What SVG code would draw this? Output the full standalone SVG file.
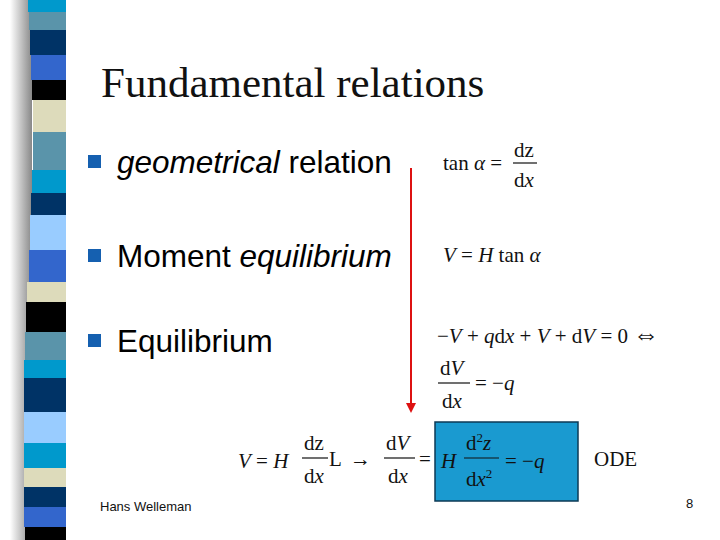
<svg xmlns="http://www.w3.org/2000/svg" width="720" height="540" viewBox="0 0 720 540">
<defs>
<linearGradient id="sh" x1="0" x2="1"><stop offset="0" stop-color="#fff"/><stop offset="1" stop-color="#888"/></linearGradient>
</defs>
<style>
.m{font-family:"Liberation Serif",serif;font-size:21px;fill:#111}
.i{font-style:italic}
.b{font-family:"Liberation Sans",sans-serif;font-size:31.5px;fill:#000}
.fl{stroke:#111;stroke-width:1.2}
</style>
<rect width="720" height="540" fill="#fff"/>
<g id="stripes">
<rect x="10" y="0" width="22" height="540" fill="url(#sh)"/>
<rect x="28" y="0" width="38" height="12" fill="#0099cc"/>
<rect x="29" y="12" width="37" height="18" fill="#5a94aa"/>
<rect x="30" y="30" width="36" height="25" fill="#003366"/>
<rect x="31" y="55" width="35" height="25" fill="#3366cc"/>
<rect x="32" y="80" width="34" height="20" fill="#000"/>
<rect x="33" y="100" width="33" height="32" fill="#dddbbb"/>
<rect x="33" y="132" width="33" height="38" fill="#5a94aa"/>
<rect x="32" y="170" width="34" height="23" fill="#0099cc"/>
<rect x="31" y="193" width="35" height="22" fill="#003366"/>
<rect x="30" y="215" width="36" height="35" fill="#99ccff"/>
<rect x="29" y="250" width="37" height="32" fill="#3366cc"/>
<rect x="27" y="282" width="39" height="20" fill="#dddbbb"/>
<rect x="26" y="302" width="40" height="30" fill="#000"/>
<rect x="25" y="332" width="41" height="28" fill="#5a94aa"/>
<rect x="24" y="360" width="42" height="18" fill="#0099cc"/>
<rect x="24" y="378" width="42" height="34" fill="#003366"/>
<rect x="24" y="412" width="42" height="31" fill="#99ccff"/>
<rect x="24" y="443" width="42" height="25" fill="#0099cc"/>
<rect x="24" y="468" width="42" height="19" fill="#dddbbb"/>
<rect x="24" y="487" width="42" height="20" fill="#003366"/>
<rect x="24" y="507" width="42" height="20" fill="#3366cc"/>
<rect x="25" y="527" width="41" height="13" fill="#000"/>
</g>
<g id="title"><text x="101" y="97" font-family="Liberation Serif,serif" font-size="43" fill="#111">Fundamental relations</text></g>
<g id="bullets" fill="#1560b0">
<rect x="88" y="155" width="13" height="13"/>
<rect x="88" y="249" width="13" height="13"/>
<rect x="88" y="334" width="13" height="13"/>
</g>
<g id="b1"><text class="b" x="117" y="173"><tspan font-style="italic">geometrical</tspan> relation</text></g>
<g id="b2"><text class="b" x="117" y="267">Moment <tspan font-style="italic">equilibrium</tspan></text></g>
<g id="b3"><text class="b" x="117" y="352">Equilibrium</text></g>
<g id="f1">
<text class="m" x="443" y="170">tan <tspan class="i">α</tspan> =</text>
<text class="m" x="514" y="157">dz</text><line class="fl" x1="513" y1="163" x2="537" y2="163"/><text class="m" x="514" y="187">d<tspan class="i">x</tspan></text>
</g>
<g id="f2"><text class="m" x="443" y="262"><tspan class="i">V</tspan> = <tspan class="i">H</tspan> tan <tspan class="i">α</tspan></text></g>
<g id="f3">
<text class="m" x="437" y="343">−<tspan class="i">V</tspan> + <tspan class="i">q</tspan>d<tspan class="i">x</tspan> + <tspan class="i">V</tspan> + d<tspan class="i">V</tspan> = 0 <tspan font-size="26">⇔</tspan></text>
<text class="m" x="440" y="375">d<tspan class="i">V</tspan></text><line class="fl" x1="438" y1="383" x2="470" y2="383"/><text class="m" x="442" y="408">d<tspan class="i">x</tspan></text>
<text class="m" x="475" y="390">= −<tspan class="i">q</tspan></text>
</g>
<g id="odebox"><rect x="435" y="422" width="143" height="79" fill="#1a9ad0" stroke="#0d3a55" stroke-width="1.5"/></g>
<g id="f4">
<text class="m" x="238" y="468"><tspan class="i">V</tspan> = <tspan class="i">H</tspan></text>
<text class="m" x="304" y="450">dz</text><line class="fl" x1="302" y1="458" x2="328" y2="458"/><text class="m" x="304" y="483">d<tspan class="i">x</tspan></text>
<text class="m" x="329" y="466" font-family="Liberation Sans,sans-serif">L</text>
<text class="m" x="350" y="466">→</text>
<text class="m" x="386" y="450">d<tspan class="i">V</tspan></text><line class="fl" x1="384" y1="458" x2="415" y2="458"/><text class="m" x="388" y="483">d<tspan class="i">x</tspan></text>
<text class="m" x="419" y="466">=</text>
<text class="m i" x="441" y="468">H</text>
<text class="m" x="466" y="450">d<tspan font-size="13" dy="-8">2</tspan><tspan class="i" dy="8">z</tspan></text><line class="fl" x1="464" y1="458" x2="499" y2="458"/><text class="m" x="466" y="486">d<tspan class="i">x</tspan><tspan font-size="13" dy="-8">2</tspan></text>
<text class="m" x="505" y="468">= −<tspan class="i">q</tspan></text>
<text class="m" x="594" y="466" font-size="23">ODE</text>
</g>
<g id="connectors">
<line x1="411" y1="168" x2="411" y2="404" stroke="#dd1111" stroke-width="2"/>
<path d="M406,403 L416,403 L411,413 Z" fill="#dd1111"/>
</g>
<g id="footer">
<text x="100" y="511" font-family="Liberation Sans,sans-serif" font-size="13" fill="#111">Hans Welleman</text>
<text x="686" y="508" font-family="Liberation Sans,sans-serif" font-size="13" fill="#111">8</text>
</g>
</svg>
